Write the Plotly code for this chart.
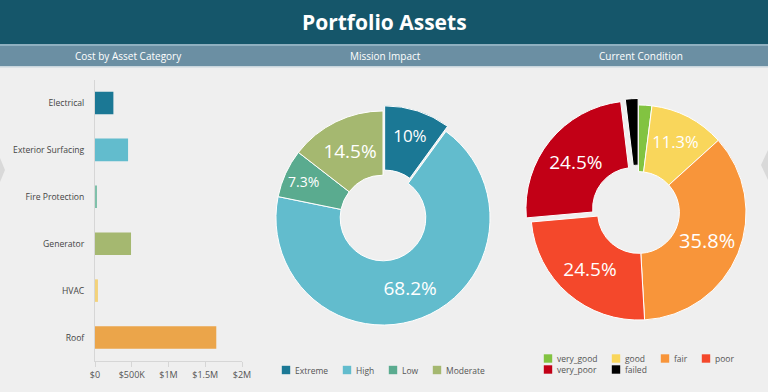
import plotly.graph_objects as go

W, H = 768, 392

# ---------------- data ----------------
title_text = "Portfolio Assets"
panel_titles = ["Cost by Asset Category", "Mission Impact", "Current Condition"]

asset_categories = ["Electrical", "Exterior Surfacing", "Fire Protection", "Generator", "HVAC", "Roof"]
asset_costs = [250000, 450000, 15000, 490000, 40000, 1650000]
asset_colors = ["#1b7895", "#62bccd", "#7fc0aa", "#a5b870", "#f3d27a", "#eba54a"]

cost_tickvals = [0, 500000, 1000000, 1500000, 2000000]
cost_ticktext = ["$0", "$500K", "$1M", "$1.5M", "$2M"]

impact_labels = ["Extreme", "High", "Low", "Moderate"]
impact_values = [10, 68.2, 7.3, 14.5]
impact_colors = ["#1b7895", "#62bccd", "#5aab8f", "#a5b870"]
impact_pull = [0.05, 0, 0, 0]
impact_fontsize = [17, 19, 14, 19]

condition_labels = ["very_good", "good", "fair", "poor", "very_poor", "failed"]
condition_values = [2.0, 11.3, 35.8, 24.5, 24.5, 1.9]
condition_colors = ["#82c341", "#f9d65b", "#f8953a", "#f4482b", "#c20016", "#000000"]
condition_pull = [0, 0, 0, 0, 0.06, 0.06]
condition_fontsize = [10, 16.5, 20, 19, 19, 10]

# legend layout (pixel positions of each entry's swatch centre)
impact_legend_pos = [(286, 370), (347, 370), (393, 370), (437, 370)]
condition_legend_pos = [(548, 358.5), (616, 358.5), (665, 358.5), (706, 358.5),
                        (548, 369.5), (616, 369.5)]


def px_x(p):
    return p / W


def px_y(p):
    return 1 - p / H


fig = go.Figure()

# bar chart
fig.add_trace(go.Bar(
    x=asset_costs, y=asset_categories, orientation="h",
    marker=dict(color=asset_colors, line=dict(width=0)),
    width=0.48, showlegend=False, xaxis="x", yaxis="y",
))

# mission impact donut
fig.add_trace(go.Pie(
    labels=impact_labels, values=impact_values,
    text=[f"{v:g}%" for v in impact_values], texttemplate="%{text}",
    textposition="inside", insidetextorientation="horizontal",
    textfont=dict(family="Open Sans", color="white", size=impact_fontsize),
    marker=dict(colors=impact_colors, line=dict(color="white", width=1)),
    hole=0.4, sort=False, direction="clockwise", rotation=0,
    pull=impact_pull, showlegend=False,
    domain=dict(x=[px_x(383 - 112.4), px_x(383 + 112.4)], y=[px_y(218 + 112.4), px_y(218 - 112.4)]),
))

# current condition donut
cond_text = [f"{v:g}%" if v > 5 else "" for v in condition_values]
fig.add_trace(go.Pie(
    labels=condition_labels, values=condition_values,
    text=cond_text, texttemplate="%{text}",
    textposition="inside", insidetextorientation="horizontal",
    textfont=dict(family="Open Sans", color="white", size=condition_fontsize),
    marker=dict(colors=condition_colors, line=dict(color="white", width=1)),
    hole=0.38, sort=False, direction="clockwise", rotation=0,
    pull=condition_pull, showlegend=False,
    domain=dict(x=[px_x(638.5 - 114), px_x(638.5 + 114)], y=[px_y(212.5 + 114), px_y(212.5 - 114)]),
))

shapes = [
    # header band
    dict(type="rect", xref="paper", yref="paper", x0=0, x1=1, y0=px_y(44), y1=1,
         fillcolor="#15566a", line=dict(width=0), layer="below"),
    dict(type="rect", xref="paper", yref="paper", x0=0, x1=1, y0=px_y(46), y1=px_y(44),
         fillcolor="#8fb0c0", line=dict(width=0), layer="below"),
    dict(type="rect", xref="paper", yref="paper", x0=0, x1=1, y0=px_y(66), y1=px_y(46),
         fillcolor="#6b8fa3", line=dict(width=0), layer="below"),
    dict(type="rect", xref="paper", yref="paper", x0=0, x1=1, y0=px_y(67.5), y1=px_y(66),
         fillcolor="#c9d6dd", line=dict(width=0), layer="below"),
    # faint navigation chevrons at the edges
    dict(type="path", xref="paper", yref="paper",
         path=f"M {px_x(0)} {px_y(158)} L {px_x(5)} {px_y(170)} L {px_x(0)} {px_y(182)} Z",
         fillcolor="#d9d9d9", line=dict(width=0), layer="below"),
    dict(type="path", xref="paper", yref="paper",
         path=f"M {px_x(768)} {px_y(150)} L {px_x(761)} {px_y(165)} L {px_x(768)} {px_y(180)} Z",
         fillcolor="#d9d9d9", line=dict(width=0), layer="below"),
]

annotations = [
    dict(text=f"<b>{title_text}</b>", x=0.5, y=px_y(22), xref="paper", yref="paper",
         showarrow=False, font=dict(family="Open Sans", size=21, color="white"),
         xanchor="center", yanchor="middle"),
]
for t, cx in zip(panel_titles, [128, 385, 641]):
    annotations.append(dict(text=t, x=px_x(cx), y=px_y(56), xref="paper", yref="paper",
                            showarrow=False, font=dict(family="Open Sans", size=10, color="white"),
                            xanchor="center", yanchor="middle"))

# legends (swatch + label) for both donuts
for labels, colors, positions in [(impact_labels, impact_colors, impact_legend_pos),
                                  (condition_labels, condition_colors, condition_legend_pos)]:
    for lab, col, (cx, cy) in zip(labels, colors, positions):
        shapes.append(dict(type="rect", xref="paper", yref="paper",
                           x0=px_x(cx - 4.2), x1=px_x(cx + 4.2),
                           y0=px_y(cy + 4.2), y1=px_y(cy - 4.2),
                           fillcolor=col, line=dict(width=0)))
        annotations.append(dict(text=lab, x=px_x(cx + 7.5), y=px_y(cy), xref="paper", yref="paper",
                                showarrow=False, xanchor="left", yanchor="middle", borderpad=0,
                                font=dict(family="Open Sans", size=8.5, color="#555555")))

fig.update_layout(
    width=W, height=H,
    margin=dict(l=0, r=0, t=0, b=0, autoexpand=False),
    paper_bgcolor="#efefef", plot_bgcolor="#efefef",
    font=dict(family="Open Sans", color="#555555"),
    xaxis=dict(domain=[px_x(95), px_x(242)], range=[0, 2000000],
               tickvals=cost_tickvals, ticktext=cost_ticktext, tickangle=0,
               showgrid=False, zeroline=False, automargin=False,
               showline=True, linecolor="#d6d6d6", linewidth=1,
               ticks="outside", ticklen=5, tickcolor="#d6d6d6",
               tickfont=dict(size=9, color="#555555"), anchor="y", fixedrange=True),
    yaxis=dict(domain=[px_y(361), px_y(79.5)], autorange="reversed",
               showgrid=False, zeroline=False, automargin=False,
               showline=True, linecolor="#d6d6d6", linewidth=1,
               ticks="", ticklabelstandoff=8,
               tickfont=dict(size=8.6, color="#444444"), anchor="x", fixedrange=True),
    showlegend=False,
    shapes=shapes,
    annotations=annotations,
)

fig.write_html("out.html", config={"displayModeBar": False},
               post_script="document.body.style.margin='0';document.body.style.overflow='hidden';")
